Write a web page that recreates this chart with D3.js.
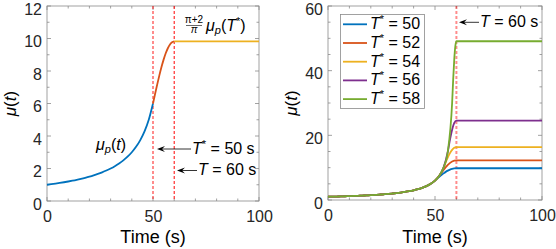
<!DOCTYPE html>
<html>
<head>
<meta charset="utf-8">
<script src="https://cdn.jsdelivr.net/npm/d3@7"></script>
<style>
  body { margin: 0; background: #fff; }
  svg { display: block; }
  .tick text { font-family: "Liberation Sans", Arial, sans-serif; font-size: 16px; fill: #262626; }
</style>
</head>
<body>
<div id="chart"></div>
<script>
// Time samples (s) and read-off values of mu_p(t) before the switch time
const baseTimes = [0, 2, 4, 6, 8, 10, 12, 14, 16, 18, 20, 22, 24, 26, 28, 30,
  32, 34, 36, 38, 40, 42, 44, 46, 48, 50, 52, 54, 56, 58];
const baseValues = [1, 1.034, 1.071, 1.111, 1.154, 1.2, 1.25, 1.304, 1.364, 1.429, 1.5,
  1.579, 1.667, 1.765, 1.875, 2, 2.143, 2.308, 2.5, 2.727, 3, 3.333, 3.75, 4.286,
  5, 6, 7.5, 10, 15, 30];

// Transition segments T* -> T = 60 s
const tStars = [50, 52, 54, 56, 58];
const transTimes = [
  [50, 51, 52, 53, 54, 55, 56, 57, 58, 59, 60],
  [52, 54, 56, 58, 60],
  [54, 55, 56, 57, 58, 59, 60],
  [56, 57, 58, 59, 60],
  [58, 58.5, 59, 59.5, 60]
];
const transValues = [
  [6, 6.60, 7.18, 7.73, 8.24, 8.70, 9.09, 9.40, 9.63, 9.77, 9.82],
  [7.5, 9.33, 10.88, 11.91, 12.27],
  [10, 11.65, 13.18, 14.50, 15.51, 16.15, 16.37],
  [15, 18.66, 21.75, 23.82, 24.55],
  [30, 37.3, 43.5, 47.6, 49.1]
];
const plateauValues = [9.82, 12.27, 16.37, 24.55, 49.1];
const endTime = 100;
const switchTime = 60;

const colors = ['#0072BD', '#D95319', '#EDB120', '#7E2F8E', '#77AC30'];
const mathFont = '"Liberation Sans", Arial, sans-serif';

const svg = d3.select('#chart').append('svg')
  .attr('width', 556).attr('height', 249);

// helper: a text element for the math-style labels
function mtext(parent, xx, yy, size) {
  return parent.append('text').attr('x', xx).attr('y', yy)
    .attr('font-family', mathFont).attr('font-size', size).attr('fill', '#000');
}

function drawAxes(box, yMax, yMajor, yMinor) {
  const x = d3.scaleLinear().domain([0, 100]).range([box.left, box.right]);
  const y = d3.scaleLinear().domain([0, yMax]).range([box.bottom, box.top]);
  const g = svg.append('g');

  // ticks (inside, all four sides)
  const minorX = d3.range(0, 101, 10);
  const minorY = d3.range(0, yMax + 0.001, yMinor);
  const tk = g.append('g').attr('stroke', '#8a8a8a').attr('stroke-width', 0.8);
  minorX.forEach(v => {
    const len = v % 50 === 0 ? 4 : 2.5;
    tk.append('line').attr('x1', x(v)).attr('x2', x(v)).attr('y1', box.bottom).attr('y2', box.bottom - len);
    tk.append('line').attr('x1', x(v)).attr('x2', x(v)).attr('y1', box.top).attr('y2', box.top + len);
  });
  minorY.forEach(v => {
    const len = Math.abs(v / yMajor - Math.round(v / yMajor)) < 1e-6 ? 4 : 2.5;
    tk.append('line').attr('y1', y(v)).attr('y2', y(v)).attr('x1', box.left).attr('x2', box.left + len);
    tk.append('line').attr('y1', y(v)).attr('y2', y(v)).attr('x1', box.right).attr('x2', box.right - len);
  });

  // tick labels via d3 axes
  const xAxis = g.append('g').attr('transform', `translate(0,${box.bottom})`)
    .call(d3.axisBottom(x).tickValues([0, 50, 100]).tickSize(0).tickPadding(10));
  xAxis.select('.domain').remove();
  const yAxis = g.append('g').attr('transform', `translate(${box.left},0)`)
    .call(d3.axisLeft(y).tickValues(d3.range(0, yMax + 0.001, yMajor)).tickSize(0).tickPadding(5));
  yAxis.select('.domain').remove();
  yAxis.selectAll('.tick text').attr('dy', '0.52em');

  g.append('rect')
    .attr('x', box.left).attr('y', box.top)
    .attr('width', box.right - box.left).attr('height', box.bottom - box.top)
    .attr('fill', 'none').attr('stroke', '#8a8a8a').attr('stroke-width', 0.8);

  // axis titles
  mtext(svg, (box.left + box.right) / 2, 243, 18)
    .attr('text-anchor', 'middle').text('Time (s)');
  const yt = svg.append('text')
    .attr('transform', `translate(${box.left - 31},${(box.top + box.bottom) / 2}) rotate(-90)`)
    .attr('font-family', mathFont).attr('font-size', 17)
    .attr('text-anchor', 'middle');
  yt.append('tspan').attr('font-style', 'italic').text('μ');
  yt.append('tspan').text('(');
  yt.append('tspan').attr('font-style', 'italic').text('t');
  yt.append('tspan').text(')');

  return { x, y };
}

const line = (x, y) => d3.line().x(d => x(d[0])).y(d => y(d[1])).curve(d3.curveMonotoneX);

function arrow(x1, x2, yy) {
  svg.append('line').attr('x1', x1 + 3).attr('x2', x2).attr('y1', yy).attr('y2', yy)
    .attr('stroke', '#000').attr('stroke-width', 0.8);
  svg.append('path')
    .attr('d', `M${x1},${yy} L${x1 + 8},${yy - 3} L${x1 + 5},${yy} L${x1 + 8},${yy + 3} Z`)
    .attr('fill', '#000');
}

function label(xx, yy, name, star, val, size) {
  const t = mtext(svg, xx, yy, size);
  t.append('tspan').attr('font-style', 'italic').text(name);
  if (star) t.append('tspan').attr('dy', -6).attr('font-size', size * 0.7).text('*');
  t.append('tspan').attr('dy', star ? 6 : 0).text(' = ' + val);
}

// ---------- Left panel ----------
const L = { left: 47, right: 259, top: 6, bottom: 201 };
const sl = drawAxes(L, 12, 2, 1);

const leftBase = baseTimes.map((t, i) => [t, baseValues[i]]).filter(d => d[0] <= 50);
const leftTrans = transTimes[0].map((t, i) => [t, transValues[0][i]]);
const leftPlat = [[switchTime, plateauValues[0]], [endTime, plateauValues[0]]];

svg.append('line').attr('x1', sl.x(50)).attr('x2', sl.x(50)).attr('y1', L.top).attr('y2', L.bottom)
  .attr('stroke', '#ff0000').attr('stroke-opacity', 0.45).attr('stroke-width', 2).attr('stroke-dasharray', '3,2');
svg.append('line').attr('x1', sl.x(60)).attr('x2', sl.x(60)).attr('y1', L.top).attr('y2', L.bottom)
  .attr('stroke', '#ff0000').attr('stroke-width', 1).attr('stroke-dasharray', '3,2');

[[leftBase, colors[0]], [leftTrans, colors[1]], [leftPlat, colors[2]]].forEach(([d, c]) => {
  svg.append('path').datum(d).attr('d', line(sl.x, sl.y)).attr('fill', 'none')
    .attr('stroke', c).attr('stroke-width', 1.8);
});

// annotations left
const mp = mtext(svg, 96, 150, 16);
mp.append('tspan').attr('font-style', 'italic').text('μ');
mp.append('tspan').attr('dy', 3).attr('font-style', 'italic').attr('font-size', 11).text('p');
mp.append('tspan').attr('dy', -3).text('(');
mp.append('tspan').attr('font-style', 'italic').text('t');
mp.append('tspan').text(')');

arrow(157, 191, 149);
label(192, 154, 'T', true, '50 s', 16);
arrow(177, 197, 170.5);
label(198, 175, 'T', false, '60 s', 16);

// fraction (pi+2)/pi mu_p(T*)
mtext(svg, 194, 22.5, 10).attr('text-anchor', 'middle').text('π+2');
svg.append('line').attr('x1', 186).attr('x2', 202).attr('y1', 25.5).attr('y2', 25.5)
  .attr('stroke', '#000').attr('stroke-width', 0.6);
mtext(svg, 194, 33, 10).attr('text-anchor', 'middle').attr('font-style', 'italic').text('π');
const fr = mtext(svg, 206, 30.5, 16);
fr.append('tspan').attr('font-style', 'italic').text('μ');
fr.append('tspan').attr('dy', 3).attr('font-style', 'italic').attr('font-size', 11).text('p');
fr.append('tspan').attr('dy', -3).text('(');
fr.append('tspan').attr('font-style', 'italic').text('T');
fr.append('tspan').attr('dy', -6).attr('font-size', 11).text('*');
fr.append('tspan').attr('dy', 6).text(')');

// ---------- Right panel ----------
const R = { left: 328, right: 542, top: 6, bottom: 200 };
const sr = drawAxes(R, 60, 20, 5);

svg.append('line').attr('x1', sr.x(60)).attr('x2', sr.x(60)).attr('y1', R.top).attr('y2', R.bottom)
  .attr('stroke', '#ff0000').attr('stroke-opacity', 0.45).attr('stroke-width', 2).attr('stroke-dasharray', '3,2');

tStars.forEach((ts, k) => {
  const pts = baseTimes.map((t, i) => [t, baseValues[i]]).filter(d => d[0] < ts)
    .concat(transTimes[k].map((t, i) => [t, transValues[k][i]]))
    .concat([[endTime, plateauValues[k]]]);
  svg.append('path').datum(pts).attr('d', line(sr.x, sr.y)).attr('fill', 'none')
    .attr('stroke', colors[k]).attr('stroke-width', 1.8);
});

arrow(459, 479, 22.3);
label(480, 27, 'T', false, '60 s', 16);

// legend
const lg = svg.append('g');
lg.append('rect').attr('x', 340.5).attr('y', 14.5).attr('width', 84).attr('height', 94)
  .attr('fill', '#fff').attr('stroke', '#8a8a8a').attr('stroke-width', 0.8);
tStars.forEach((ts, k) => {
  const yy = 24.3 + k * 18.7;
  lg.append('line').attr('x1', 343).attr('x2', 367).attr('y1', yy).attr('y2', yy)
    .attr('stroke', colors[k]).attr('stroke-width', 1.8);
  const t = mtext(lg, 370, yy + 5, 16);
  t.append('tspan').attr('font-style', 'italic').text('T');
  t.append('tspan').attr('dy', -6).attr('font-size', 11).text('*');
  t.append('tspan').attr('dy', 6).text(' = ' + ts);
});
</script>
</body>
</html>
